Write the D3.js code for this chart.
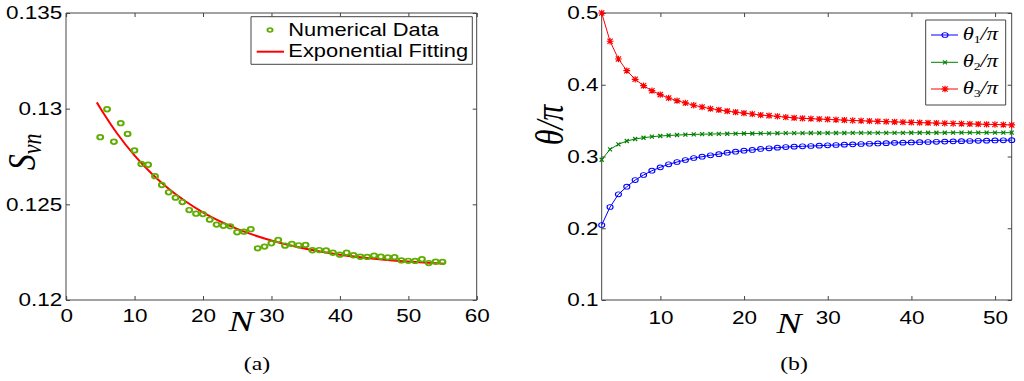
<!DOCTYPE html>
<html>
<head>
<meta charset="utf-8">
<script src="https://d3js.org/d3.v7.min.js"></script>
<style>
  body { margin: 0; background: #fff; }
  svg { display: block; }
</style>
</head>
<body>
<script>
// ---- data ----
var nA = [5,6,7,8,9,10,11,12,13,14,15,16,17,18,19,20,21,22,23,24,25,26,27,28,29,30,
          31,32,33,34,35,36,37,38,39,40,41,42,43,44,45,46,47,48,49,50,51,52,53,54,55];
var svn = [0.12851,0.12997,0.12827,0.12924,0.12868,0.12782,0.12711,0.12707,0.12647,0.12601,
           0.12563,0.12535,0.12512,0.12470,0.12451,0.12449,0.12420,0.12394,0.12388,0.12385,
           0.12354,0.12357,0.12370,0.12270,0.12279,0.12296,0.12314,0.12284,0.12293,0.12286,
           0.12288,0.12260,0.12261,0.12259,0.12247,0.12237,0.12247,0.12234,0.12226,0.12225,
           0.12232,0.12226,0.12223,0.12224,0.12207,0.12205,0.12204,0.12213,0.12193,0.12200,0.12199];
var fitN = [4.5,5,7.5,10,12.5,15,17.5,20,25,30,35,40,45,50,55.3];
var fitS = [0.13033,0.13004,0.12869,0.12756,0.12661,0.12581,0.12515,0.12458,0.12372,
            0.12311,0.12268,0.12237,0.12216,0.12201,0.12190];

var nB = [3,4,5,6,7,8,9,10,11,12,13,14,15,16,17,18,19,20,21,22,23,24,25,26,27,
          28,29,30,31,32,33,34,35,36,37,38,39,40,41,42,43,44,45,46,47,48,49,50,51,52];
var theta1 = [0.2045,0.2296,0.2473,0.2579,0.2672,0.2742,0.2802,0.2849,0.2891,0.2923,
              0.2951,0.2979,0.2997,0.3017,0.3033,0.3053,0.3067,0.3081,0.3091,0.3105,
              0.3114,0.3123,0.3132,0.3137,0.3142,0.3146,0.3151,0.3156,0.3160,0.3165,
              0.3169,0.3174,0.3178,0.3182,0.3186,0.3190,0.3193,0.3196,0.3199,0.3202,
              0.3205,0.3208,0.3211,0.3214,0.3216,0.3219,0.3221,0.3224,0.3226,0.3228];
var theta2 = [0.2955,0.3100,0.3170,0.3216,0.3244,0.3262,0.3276,0.3286,0.3293,0.3299,
              0.3304,0.3308,0.3311,0.3313,0.3315,0.3317,0.3319,0.3320,0.3321,0.3322,
              0.3323,0.3324,0.3325,0.3326,0.3326,0.3327,0.3327,0.3328,0.3328,0.3328,
              0.3329,0.3329,0.3329,0.3330,0.3330,0.3330,0.3330,0.3331,0.3331,0.3331,
              0.3331,0.3331,0.3332,0.3332,0.3332,0.3332,0.3332,0.3332,0.3332,0.3332];
var theta3 = [0.5000,0.4606,0.4359,0.4196,0.4076,0.3987,0.3917,0.3862,0.3815,0.3778,
              0.3746,0.3714,0.3690,0.3666,0.3650,0.3632,0.3618,0.3604,0.3592,0.3578,
              0.3569,0.3560,0.3548,0.3539,0.3532,0.3527,0.3522,0.3517,0.3512,0.3507,
              0.3502,0.3498,0.3494,0.3490,0.3486,0.3482,0.3478,0.3475,0.3472,0.3469,
              0.3466,0.3463,0.3460,0.3457,0.3454,0.3451,0.3448,0.3446,0.3443,0.3440];

var xTicksA = [0,10,20,30,40,50,60];
var yTicksA = [0.12,0.125,0.13,0.135];
var xTicksB = [10,20,30,40,50];
var yTicksB = [0.1,0.2,0.3,0.4,0.5];

// the original figure is stretched horizontally, so draw in a squeezed frame
var SX = 1.25;
function sx(v) { return v / SX; }

var svg = d3.select("body").append("svg").attr("width", 1024).attr("height", 381);
var root = svg.append("g").attr("transform", "scale(" + SX + ",1)");

var axisColor = "#444";
var tickFont = "'Liberation Sans', Arial, sans-serif";
var mathFont = "'Liberation Serif', 'DejaVu Serif', serif";

function drawFrame(g, x, y, xt, yt, padX, padY) {
    var x0 = x.range()[0], x1 = x.range()[1], y0 = y.range()[0], y1 = y.range()[1];
    var bottom = g.append("g").attr("transform", "translate(0," + y0 + ")")
        .call(d3.axisBottom(x).tickValues(xt).tickFormat(String).tickSizeInner(-4).tickSizeOuter(0).tickPadding(padX));
    var top = g.append("g").attr("transform", "translate(0," + y1 + ")")
        .call(d3.axisTop(x).tickValues(xt).tickFormat("").tickSizeInner(-4).tickSizeOuter(0));
    var left = g.append("g").attr("transform", "translate(" + x0 + ",0)")
        .call(d3.axisLeft(y).tickValues(yt).tickFormat(String).tickSizeInner(-sx(4)).tickSizeOuter(0).tickPadding(padY));
    var right = g.append("g").attr("transform", "translate(" + x1 + ",0)")
        .call(d3.axisRight(y).tickValues(yt).tickFormat("").tickSizeInner(-sx(4)).tickSizeOuter(0));
    [bottom, top, left, right].forEach(function(a) {
        a.select(".domain").remove();
        a.selectAll("line").attr("stroke", axisColor).attr("vector-effect", "non-scaling-stroke");
        a.attr("font-size", 18).attr("font-family", tickFont);
        a.selectAll("text").attr("fill", "#000");
    });
    g.append("rect")
        .attr("x", x0).attr("y", y1)
        .attr("width", x1 - x0).attr("height", y0 - y1)
        .attr("fill", "none").attr("stroke", axisColor)
        .attr("vector-effect", "non-scaling-stroke");
}

// ---------- panel (a) ----------
var xA = d3.scaleLinear().domain([0, 60]).range([sx(66), sx(476.7)]);
var yA = d3.scaleLinear().domain([0.12, 0.135]).range([300, 13]);
var gA = root.append("g");

drawFrame(gA, xA, yA, xTicksA, yTicksA, 9.5, 3);

var fitLine = d3.line()
    .x(function(d, i) { return xA(fitN[i]); })
    .y(function(d) { return yA(d); })
    .curve(d3.curveMonotoneX);

gA.append("path")
    .attr("d", fitLine(fitS))
    .attr("fill", "none").attr("stroke", "#ff0000").attr("stroke-width", 2)
    .attr("vector-effect", "non-scaling-stroke");

gA.selectAll(".pt")
    .data(svn)
    .enter().append("circle")
    .attr("cx", function(d, i) { return xA(nA[i]); })
    .attr("cy", function(d) { return yA(d); })
    .attr("r", 2.3)
    .attr("fill", "none").attr("stroke", "#5fad00").attr("stroke-width", 1.7);

// legend (a)
var legA = gA.append("g");
legA.append("rect")
    .attr("x", sx(251)).attr("y", 16.7).attr("width", sx(472.3) - sx(251)).attr("height", 47.6)
    .attr("fill", "#fff").attr("stroke", axisColor).attr("vector-effect", "non-scaling-stroke");
legA.append("circle").attr("cx", sx(270)).attr("cy", 30).attr("r", 2)
    .attr("fill", "none").attr("stroke", "#5fad00").attr("stroke-width", 1.6);
legA.append("line").attr("x1", sx(256.7)).attr("x2", sx(284)).attr("y1", 51.7).attr("y2", 51.7)
    .attr("stroke", "#ff0000").attr("stroke-width", 2).attr("vector-effect", "non-scaling-stroke");
legA.append("text").attr("x", sx(288.3)).attr("y", 36.5)
    .attr("font-family", tickFont).attr("font-size", 17.5).text("Numerical Data");
legA.append("text").attr("x", sx(288.3)).attr("y", 57.5)
    .attr("font-family", tickFont).attr("font-size", 17.5).text("Exponential Fitting");

// axis labels (a)
gA.append("text")
    .attr("x", sx(241)).attr("y", 331)
    .attr("text-anchor", "middle")
    .attr("font-family", mathFont).attr("font-style", "italic").attr("font-size", 30)
    .text("N");
var sLab = gA.append("text")
    .attr("transform", "translate(" + sx(35) + ",152) rotate(-90)")
    .attr("text-anchor", "middle")
    .attr("font-family", mathFont).attr("font-style", "italic").attr("font-size", 32);
sLab.append("tspan").text("S");
sLab.append("tspan").attr("font-size", 22).attr("dy", 5).text("vn");

gA.append("text")
    .attr("x", sx(257)).attr("y", 370)
    .attr("text-anchor", "middle")
    .attr("font-family", mathFont).attr("font-size", 19)
    .text("(a)");

// ---------- panel (b) ----------
var xB = d3.scaleLinear().domain([3, 52]).range([sx(601.7), sx(1011.7)]);
var yB = d3.scaleLinear().domain([0.1, 0.5]).range([300, 13]);
var gB = root.append("g");

drawFrame(gB, xB, yB, xTicksB, yTicksB, 11, 2.5);

var series = [
    { values: theta1, color: "#0000ff", marker: "circle", sub: "1" },
    { values: theta2, color: "#008000", marker: "x", sub: "2" },
    { values: theta3, color: "#ff0000", marker: "star", sub: "3" }
];

function marker(g, type, color, cx, cy) {
    if (type === "circle") {
        g.append("circle").attr("cx", cx).attr("cy", cy).attr("r", 2.4)
            .attr("fill", "none").attr("stroke", color).attr("stroke-width", 0.9);
    } else {
        var s = type === "x" ? 1.6 : 2.1;
        var p = "M" + (cx - s) + "," + (cy - s * 1.25) + "L" + (cx + s) + "," + (cy + s * 1.25) +
                "M" + (cx - s) + "," + (cy + s * 1.25) + "L" + (cx + s) + "," + (cy - s * 1.25);
        if (type === "star") {
            p += "M" + cx + "," + (cy - s * 1.5) + "L" + cx + "," + (cy + s * 1.5) +
                 "M" + (cx - s * 1.3) + "," + cy + "L" + (cx + s * 1.3) + "," + cy;
        }
        g.append("path").attr("d", p).attr("stroke", color).attr("stroke-width", 1.2)
            .attr("vector-effect", "non-scaling-stroke");
    }
}

series.forEach(function(s) {
    var line = d3.line()
        .x(function(d, i) { return xB(nB[i]); })
        .y(function(d) { return yB(d); });
    gB.append("path")
        .attr("d", line(s.values))
        .attr("fill", "none").attr("stroke", s.color).attr("stroke-width", 1)
        .attr("vector-effect", "non-scaling-stroke");
    var mg = gB.append("g");
    s.values.forEach(function(v, i) { marker(mg, s.marker, s.color, xB(nB[i]), yB(v)); });
});

// legend (b)
var legB = gB.append("g");
legB.append("rect")
    .attr("x", sx(925.7)).attr("y", 20).attr("width", sx(1005.7) - sx(925.7)).attr("height", 85)
    .attr("fill", "#fff").attr("stroke", axisColor).attr("vector-effect", "non-scaling-stroke");
var rowY = [35, 62.3, 89];
series.forEach(function(s, i) {
    legB.append("line").attr("x1", sx(931)).attr("x2", sx(958)).attr("y1", rowY[i]).attr("y2", rowY[i])
        .attr("stroke", s.color).attr("stroke-width", 1).attr("vector-effect", "non-scaling-stroke");
    marker(legB, s.marker, s.color, sx(945), rowY[i]);
    var t = legB.append("text").attr("x", sx(962.7)).attr("y", rowY[i] + 5)
        .attr("font-family", mathFont).attr("font-style", "italic").attr("font-size", 18);
    t.append("tspan").text("θ");
    t.append("tspan").attr("font-size", 11).attr("font-style", "normal").attr("dy", 3).text(s.sub);
    t.append("tspan").attr("dy", -3).text("/π");
});

// axis labels (b)
gB.append("text")
    .attr("x", sx(789)).attr("y", 333)
    .attr("text-anchor", "middle")
    .attr("font-family", mathFont).attr("font-style", "italic").attr("font-size", 30)
    .text("N");
gB.append("text")
    .attr("transform", "translate(" + sx(563) + ",125) rotate(-90)")
    .attr("text-anchor", "middle")
    .attr("font-family", mathFont).attr("font-style", "italic").attr("font-size", 32)
    .text("θ/π");

gB.append("text")
    .attr("x", sx(794)).attr("y", 370)
    .attr("text-anchor", "middle")
    .attr("font-family", mathFont).attr("font-size", 19)
    .text("(b)");
</script>
</body>
</html>
